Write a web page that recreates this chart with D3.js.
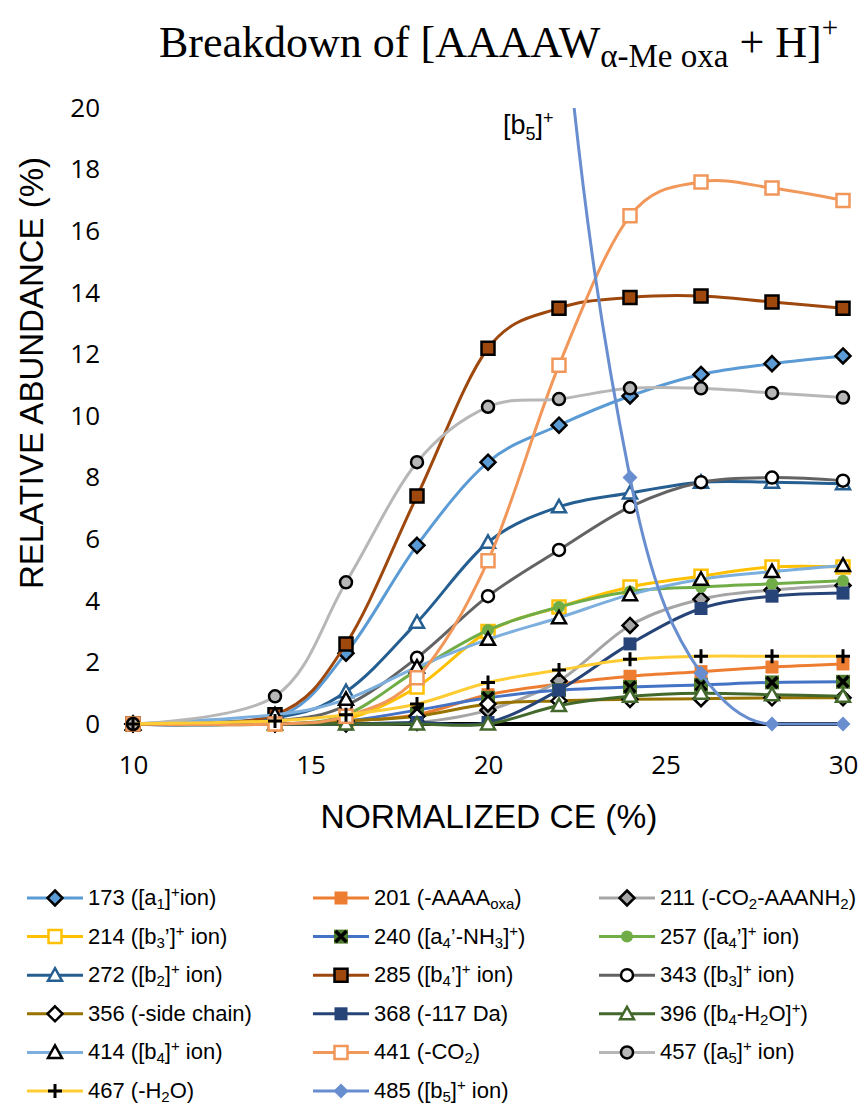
<!DOCTYPE html>
<html>
<head>
<meta charset="utf-8">
<script src="https://cdn.jsdelivr.net/npm/d3@7"></script>
<style>
html,body{margin:0;padding:0;background:#fff;}
svg{display:block;}
</style>
</head>
<body>
<div id="chart"></div>
<script>
// ---- data ----
const ceValues = [10, 14, 16, 18, 20, 22, 24, 26, 28, 30];
const xTicks = [10, 15, 20, 25, 30];
const yTicks = [0, 2, 4, 6, 8, 10, 12, 14, 16, 18, 20];

const s173 = [0, 0.2, 2.3, 5.8, 8.5, 9.7, 10.65, 11.35, 11.7, 11.95];
const s201 = [0, 0, 0.1, 0.3, 0.95, 1.3, 1.55, 1.7, 1.85, 1.95];
const s211 = [0, 0, 0, 0.05, 0.45, 1.4, 3.2, 4.05, 4.35, 4.5];
const s214 = [0, 0, 0.15, 1.2, 3.0, 3.8, 4.45, 4.8, 5.1, 5.1];
const s240 = [0, 0, 0.1, 0.45, 0.85, 1.1, 1.2, 1.27, 1.35, 1.37];
const s257 = [0, 0, 0.3, 1.75, 3.05, 3.8, 4.3, 4.45, 4.55, 4.65];
const s272 = [0, 0.2, 1.05, 3.3, 5.9, 7.05, 7.5, 7.85, 7.85, 7.8];
const s285 = [0, 0.3, 2.6, 7.4, 12.2, 13.5, 13.85, 13.9, 13.7, 13.5];
const s343 = [0, 0.1, 0.6, 2.15, 4.15, 5.65, 7.05, 7.85, 8.0, 7.9];
const s356 = [0, 0, 0.1, 0.25, 0.65, 0.75, 0.8, 0.82, 0.85, 0.85];
const s368 = [0, 0, 0, 0.05, 0.05, 1.1, 2.6, 3.75, 4.15, 4.25];
const s396 = [0, 0, 0, 0, 0, 0.6, 0.9, 1.0, 0.95, 0.9];
const s414 = [0, 0.3, 0.8, 1.85, 2.75, 3.45, 4.2, 4.7, 4.95, 5.15];
const s441 = [0, 0, 0.25, 1.5, 5.3, 11.65, 16.5, 17.6, 17.4, 17.0];
const s457 = [0, 0.9, 4.6, 8.5, 10.3, 10.55, 10.9, 10.9, 10.75, 10.6];
const s467 = [0, 0.1, 0.3, 0.65, 1.35, 1.75, 2.1, 2.2, 2.2, 2.2];
const s485 = [100, 100, 98, 90, 60, 25, 8.0, 1.65, 0, 0];

// legend labels: array of [text, mode] parts (mode: n normal, sub, sup)
const labels = [
  [["173 ([a","n"],["1","sub"],["]","n"],["+","sup"],["ion)","n"]],
  [["201 (-AAAA","n"],["oxa","sub"],[")","n"]],
  [["211 (-CO","n"],["2","sub"],["-AAANH","n"],["2","sub"],[")","n"]],
  [["214 ([b","n"],["3","sub"],["’]","n"],["+","sup"],[" ion)","n"]],
  [["240 ([a","n"],["4","sub"],["’-NH","n"],["3","sub"],["]","n"],["+","sup"],[")","n"]],
  [["257 ([a","n"],["4","sub"],["’]","n"],["+","sup"],[" ion)","n"]],
  [["272 ([b","n"],["2","sub"],["]","n"],["+","sup"],[" ion)","n"]],
  [["285 ([b","n"],["4","sub"],["’]","n"],["+","sup"],[" ion)","n"]],
  [["343 ([b","n"],["3","sub"],["]","n"],["+","sup"],[" ion)","n"]],
  [["356 (-side chain)","n"]],
  [["368 (-117 Da)","n"]],
  [["396 ([b","n"],["4","sub"],["-H","n"],["2","sub"],["O]","n"],["+","sup"],[")","n"]],
  [["414 ([b","n"],["4","sub"],["]","n"],["+","sup"],[" ion)","n"]],
  [["441 (-CO","n"],["2","sub"],[")","n"]],
  [["457 ([a","n"],["5","sub"],["]","n"],["+","sup"],[" ion)","n"]],
  [["467 (-H","n"],["2","sub"],["O)","n"]],
  [["485 ([b","n"],["5","sub"],["]","n"],["+","sup"],[" ion)","n"]]
];

const seriesValues = [s173, s201, s211, s214, s240, s257, s272, s285, s343, s356, s368, s396, s414, s441, s457, s467, s485];

// styles: line colour, marker shape, fill, stroke
const styles = [
  {c:"#5B9BD5", m:"diamond", f:"#5B9BD5", s:"#000"},
  {c:"#ED7D31", m:"square", f:"#ED7D31", s:"none"},
  {c:"#A5A5A5", m:"diamond", f:"#A5A5A5", s:"#000"},
  {c:"#FFC000", m:"square", f:"#fff", s:"#FFC000"},
  {c:"#4472C4", m:"xbox", f:"#4E7A2F", s:"#000"},
  {c:"#70AD47", m:"circle", f:"#70AD47", s:"none"},
  {c:"#255E91", m:"triangle", f:"#fff", s:"#255E91"},
  {c:"#9E480E", m:"square", f:"#9E480E", s:"#000"},
  {c:"#636363", m:"circle", f:"#fff", s:"#000"},
  {c:"#997300", m:"diamond", f:"#fff", s:"#000"},
  {c:"#264478", m:"square", f:"#264478", s:"none"},
  {c:"#43682B", m:"triangle", f:"#fff", s:"#43682B"},
  {c:"#7CAFDD", m:"triangle", f:"#fff", s:"#000"},
  {c:"#F1975A", m:"square", f:"#fff", s:"#F1975A"},
  {c:"#B7B7B7", m:"circle", f:"#B7B7B7", s:"#000"},
  {c:"#FFCD33", m:"plus", f:"none", s:"#000"},
  {c:"#698ED0", m:"diamond", f:"#698ED0", s:"none", monotone:true}
];

// ---- layout ----
const W = 864, H = 1105;
const svg = d3.select("#chart").append("svg").attr("width", W).attr("height", H);

const x = d3.scaleLinear().domain([10, 30]).range([133, 843]);
const y = d3.scaleLinear().domain([0, 20]).range([724, 108]);

// title
const title = svg.append("text").attr("x", 159).attr("y", 57).attr("text-anchor", "start")
  .style("font-family", "'Liberation Serif','Times New Roman',serif").style("font-size", "44px").attr("fill", "#000");
title.append("tspan").text("Breakdown of [AAAAW");
title.append("tspan").attr("dy", 10).style("font-size", "33px").text("α-Me oxa");
title.append("tspan").attr("dy", -10).text(" + H]");
title.append("tspan").attr("dy", -20).style("font-size", "29px").text("+");

// axes
const yAxis = d3.axisLeft(y).tickValues(yTicks).tickSize(0).tickPadding(33);
const gy = svg.append("g").attr("transform", `translate(${x(10)},0)`).call(yAxis);
gy.select(".domain").remove();
gy.selectAll("text").style("font-family", "'Open Sans',sans-serif").style("font-size", "26px").attr("fill", "#000");

const xAxis = d3.axisBottom(x).tickValues(xTicks).tickSize(0).tickPadding(32);
const gx = svg.append("g").attr("transform", `translate(0,${y(0)})`).call(xAxis);
gx.select(".domain").remove();
gx.selectAll("text").style("font-family", "'Open Sans',sans-serif").style("font-size", "26px").attr("fill", "#000");

svg.append("line").attr("x1", x(10)).attr("x2", x(30)).attr("y1", y(0)).attr("y2", y(0))
  .attr("stroke", "#000").attr("stroke-width", 4);

svg.append("text").attr("x", 489).attr("y", 828).attr("text-anchor", "middle")
  .style("font-family", "'Liberation Sans',Arial,sans-serif").style("font-size", "33.5px").text("NORMALIZED CE (%)");
svg.append("text").attr("transform", `translate(43,373) rotate(-90)`).attr("text-anchor", "middle")
  .style("font-family", "'Liberation Sans',Arial,sans-serif").style("font-size", "33px").text("RELATIVE ABUNDANCE (%)");

// clip
svg.append("clipPath").attr("id", "plotclip").append("rect")
  .attr("x", 0).attr("y", y(20)).attr("width", W).attr("height", H - y(20));

// marker paths
function markerPath(m) {
  switch (m) {
    case "diamond": return "M0,-7.5L7.5,0L0,7.5L-7.5,0Z";
    case "square": return "M-6.5,-6.5H6.5V6.5H-6.5Z";
    case "circle": return "M6,0A6,6 0 1,1 -6,0A6,6 0 1,1 6,0Z";
    case "triangle": return "M0,-7L7,5.5H-7Z";
    case "plus": return "M-7,0H7M0,-7V7";
    case "xbox": return "M-7,-7H7V7H-7Z";
  }
}
function drawMarker(g, st, cx, cy) {
  const gg = g.append("g").attr("transform", `translate(${cx},${cy})`);
  if (st.m === "xbox") {
    gg.append("path").attr("d", markerPath("xbox")).attr("fill", st.f);
    gg.append("path").attr("d", "M-5.5,-5.5L5.5,5.5M5.5,-5.5L-5.5,5.5").attr("stroke", "#000").attr("stroke-width", 3.5).attr("fill", "none");
  } else if (st.m === "plus") {
    gg.append("path").attr("d", markerPath("plus")).attr("stroke", "#000").attr("stroke-width", 3).attr("fill", "none");
  } else {
    gg.append("path").attr("d", markerPath(st.m)).attr("fill", st.f)
      .attr("stroke", st.s).attr("stroke-width", st.s === "none" ? 0 : 2.5);
  }
}

const lineCard = d3.line().x((d, i) => x(ceValues[i])).y(d => y(d)).curve(d3.curveCardinal.tension(0));
const lineMono = d3.line().x((d, i) => x(ceValues[i])).y(d => y(d)).curve(d3.curveMonotoneX);

const plot = svg.append("g").attr("clip-path", "url(#plotclip)");
seriesValues.forEach((vals, k) => {
  const st = styles[k];
  const g = plot.append("g");
  g.append("path").datum(vals).attr("d", st.monotone ? lineMono : lineCard).attr("fill", "none")
    .attr("stroke", st.c).attr("stroke-width", 3);
  vals.forEach((v, i) => {
    if (v <= 20) drawMarker(g, st, x(ceValues[i]), y(v));
  });
});

// [b5]+ label
const b5 = svg.append("text").attr("x", 503).attr("y", 134)
  .style("font-family", "'Liberation Sans',Arial,sans-serif").style("font-size", "27px");
b5.append("tspan").text("[b");
b5.append("tspan").attr("dy", 6).style("font-size", "18px").text("5");
b5.append("tspan").attr("dy", -6).text("]");
b5.append("tspan").attr("dy", -10).style("font-size", "18px").text("+");

// legend
const colX = [27, 313, 599];
const rowY0 = 898, rowDY = 38.6;
const leg = svg.append("g");
labels.forEach((parts, k) => {
  const col = k % 3, row = Math.floor(k / 3);
  const lx = colX[col], ly = rowY0 + row * rowDY;
  const st = styles[k];
  leg.append("line").attr("x1", lx).attr("x2", lx + 56).attr("y1", ly).attr("y2", ly)
    .attr("stroke", st.c).attr("stroke-width", 3);
  drawMarker(leg, st, lx + 28, ly);
  const t = leg.append("text").attr("x", lx + 61).attr("y", ly + 7)
    .style("font-family", "'Liberation Sans',Arial,sans-serif").style("font-size", "22px");
  let shift = 0;
  parts.forEach(([txt, mode]) => {
    let target = mode === "sub" ? 4 : mode === "sup" ? -8 : 0;
    const ts = t.append("tspan").text(txt).attr("dy", target - shift);
    if (mode !== "n") ts.style("font-size", "15px");
    shift = target;
  });
});
</script>
</body>
</html>
